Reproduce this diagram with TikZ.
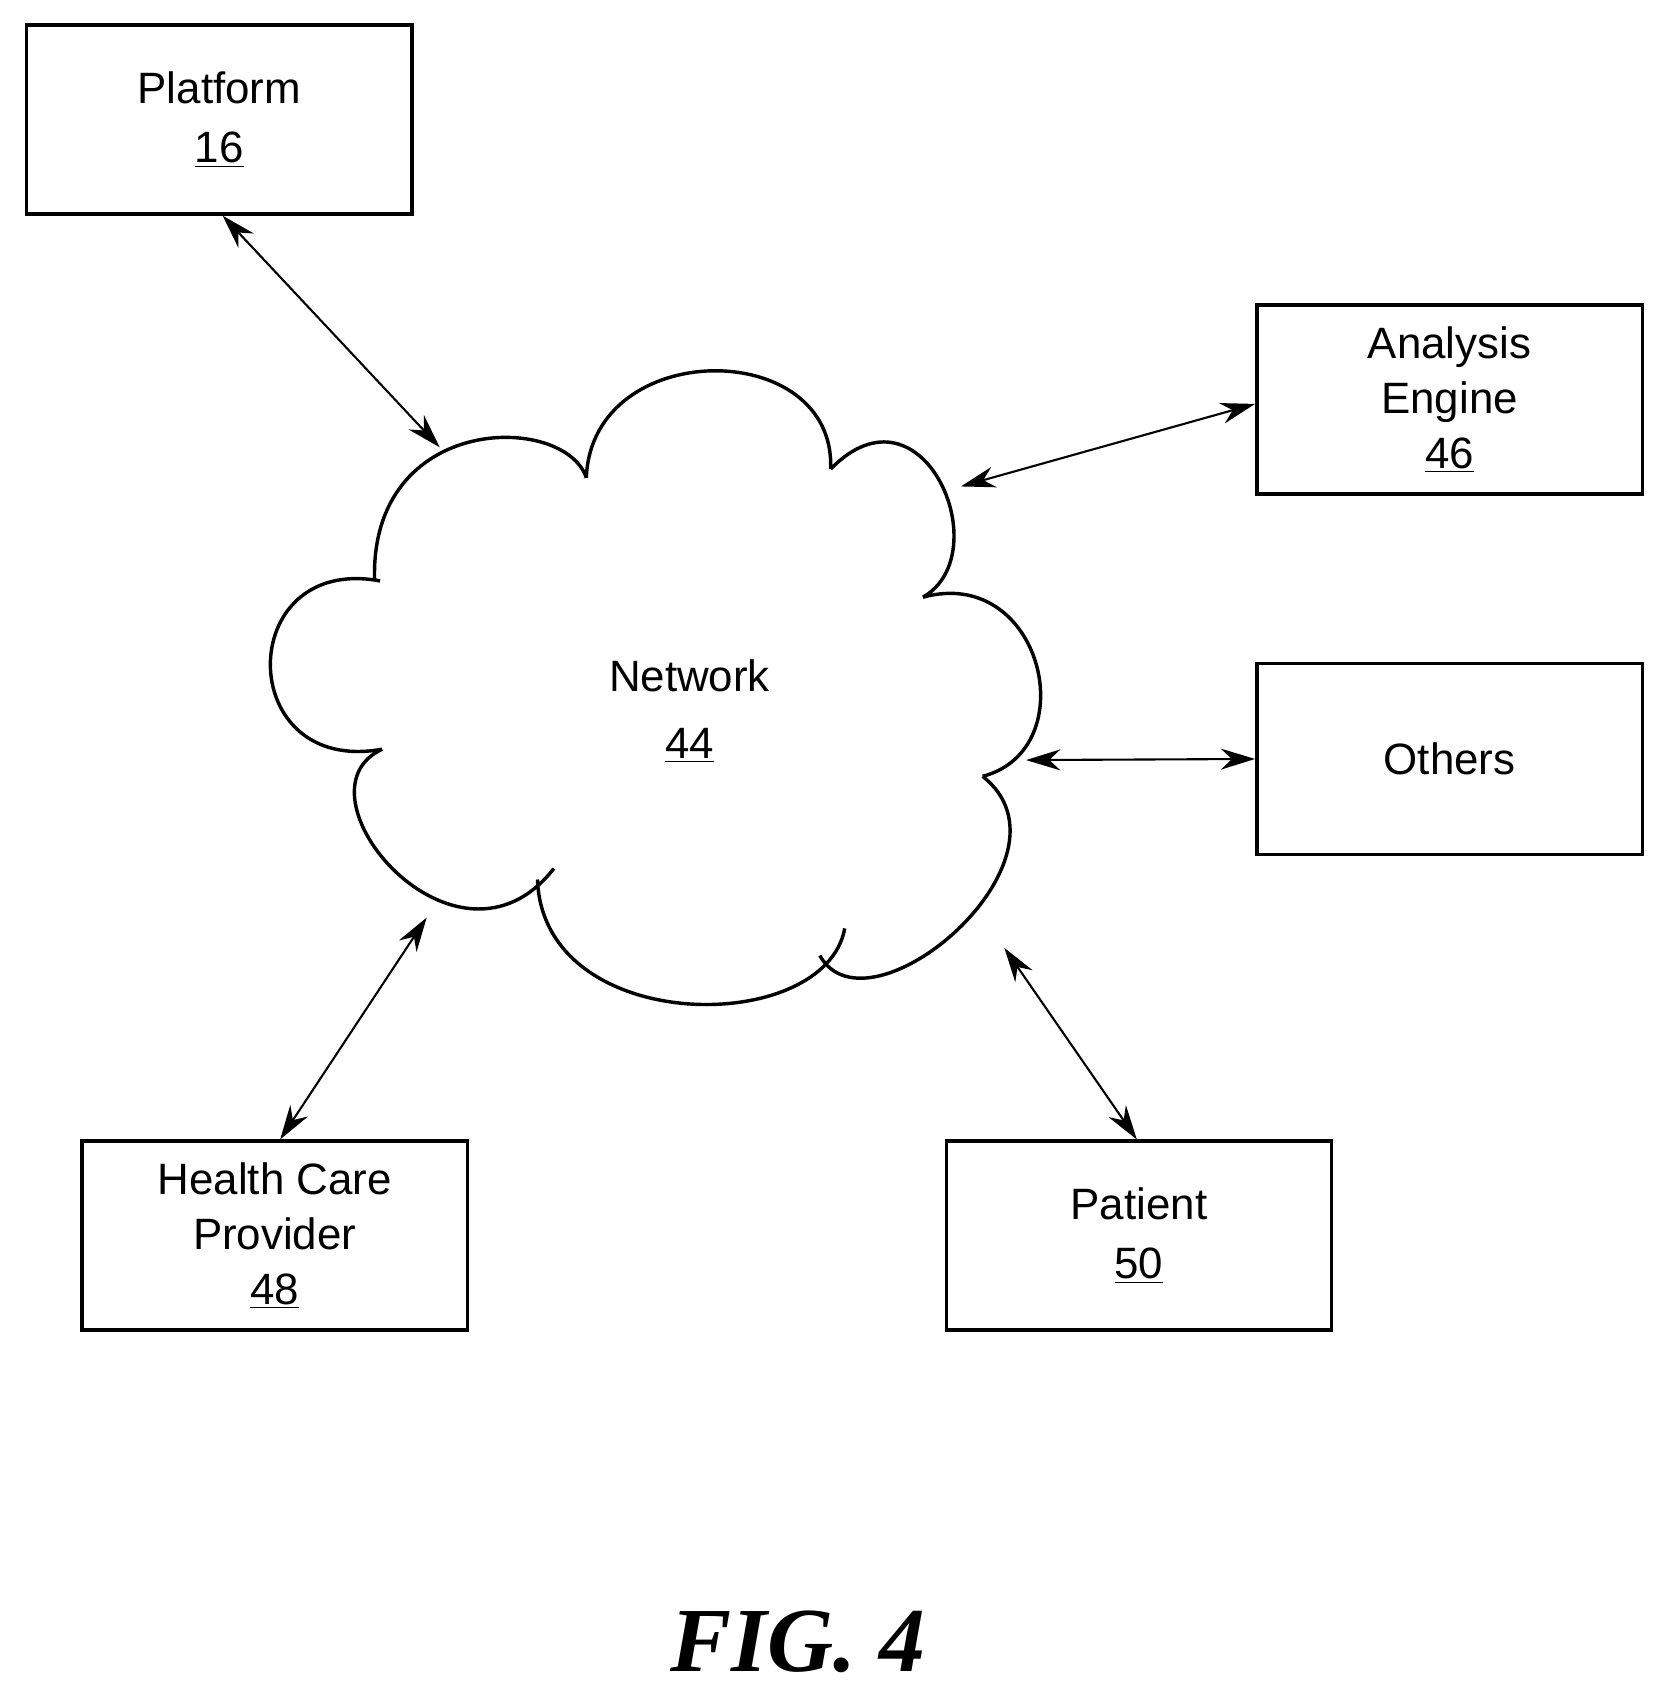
\documentclass[tikz,border=0pt]{standalone}
\usepackage{fontspec}
\setmainfont{Liberation Sans}
\newfontfamily\figfont{Liberation Serif}
\usetikzlibrary{arrows.meta}
\begin{document}
\begin{tikzpicture}[x=0.02cm,y=-0.02cm,
  box/.style={draw,line width=1.8pt,minimum width=7.1cm,minimum height=3.48cm,align=center,font=\fontsize{23}{29}\selectfont,inner sep=0pt},
  conn/.style={line width=1.1pt,{Stealth[length=18pt,width=11pt]}-{Stealth[length=18pt,width=11pt]}}]
\useasboundingbox (0,0) rectangle (1530,1562);
\node[box] (plat) at (202,110) {Platform\\[2pt]\underline{16}};
\node[box] (ana) at (1335,368) {Analysis\\Engine\\\underline{46}};
\node[box,minimum height=3.52cm] (oth) at (1335,699) {Others};
\node[box] (hcp) at (253,1138) {Health Care\\Provider\\\underline{48}};
\node[box] (pat) at (1049,1138) {Patient\\[2pt]\underline{50}};
\draw[line width=1.8pt]
 (350,535) .. controls (215,510) and (215,715) .. (352,690)
 (352,690) .. controls (265,730) and (420,915) .. (510,800)
 (495,810) .. controls (500,955) and (760,955) .. (778,855)
 (755,880) .. controls (800,960) and (1000,790) .. (905,715)
 (905,715) .. controls (1000,690) and (960,520) .. (850,550)
 (850,550) .. controls (920,510) and (850,345) .. (765,432)
 (765,432) .. controls (770,310) and (545,310) .. (540,440)
 (540,440) .. controls (520,380) and (340,380) .. (345,535);
\node[font=\fontsize{23}{29}\selectfont,align=center] (net) at (635,655) {Network\\[6pt]\underline{44}};
\coordinate (c1) at (405,412);
\coordinate (c2) at (885,448);
\coordinate (c3) at (945,700);
\coordinate (c4) at (393,845);
\coordinate (c5) at (925,873);
\draw[conn] (plat.south) ++(3,0) coordinate (p1) (p1) -- (c1);
\draw[conn] (ana.west) ++(0,4) coordinate (a1) (a1) -- (c2);
\draw[conn] (oth.west) -- (c3);
\draw[conn] (hcp.north) ++(5,0) coordinate (h1) (h1) -- (c4);
\draw[conn] (pat.north) ++(-2,0) coordinate (q1) (q1) -- (c5);
\node[font=\figfont\bfseries\itshape\fontsize{48}{52}\selectfont] (fig) at (735,1512) {FIG. 4};
\end{tikzpicture}
\end{document}
